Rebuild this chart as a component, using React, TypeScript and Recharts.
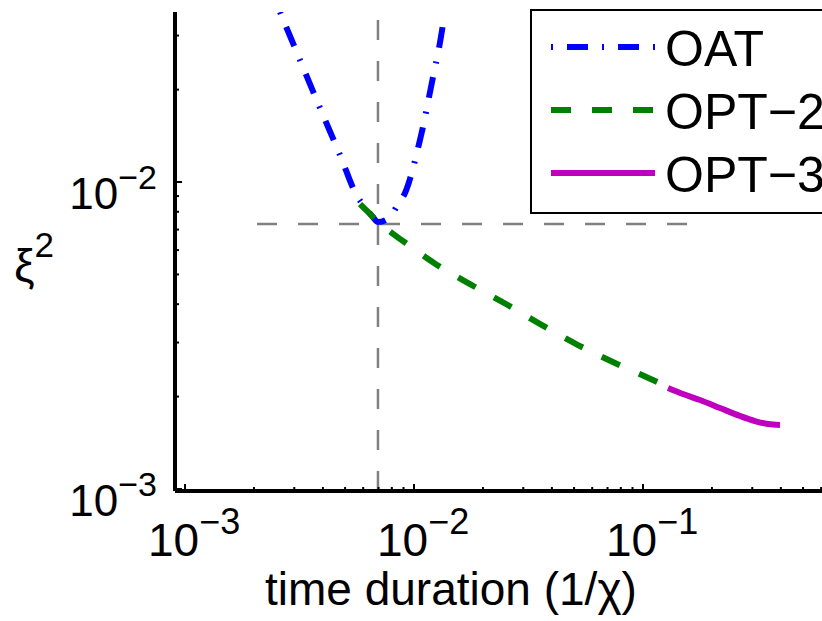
import { LineChart, Line, XAxis, YAxis, ReferenceLine, Legend } from "recharts";

const FONT = '"Liberation Sans", Arial, Helvetica, sans-serif';

// values (log-log axes)
const oatTime = [0.002599, 0.003177, 0.003886, 0.004753, 0.005638, 0.006109, 0.006555, 0.006962, 0.007855, 0.008513, 0.009135, 0.0098, 0.01041, 0.01106, 0.01163, 0.01223, 0.01286, 0.01339];
const oatXi2 = [0.0358, 0.02497, 0.01742, 0.01224, 0.009, 0.00829, 0.00775, 0.00741, 0.00769, 0.00848, 0.00921, 0.01078, 0.0129, 0.01568, 0.01892, 0.02282, 0.02733, 0.03271];

const opt2Time = [0.00581, 0.006425, 0.006962, 0.008014, 0.009605, 0.01223, 0.01756, 0.02522, 0.03622, 0.05203, 0.07546, 0.1106, 0.1286];
const opt2Xi2 = [0.00848, 0.00787, 0.00741, 0.00682, 0.00619, 0.00545, 0.00465, 0.004005, 0.00342, 0.002944, 0.002573, 0.002265, 0.00215];

const opt3Time = [0.1286, 0.1495, 0.1774, 0.2169, 0.2653, 0.3084, 0.3515, 0.3965];
const opt3Xi2 = [0.002133, 0.002039, 0.00195, 0.001836, 0.001729, 0.001665, 0.001628, 0.001616];

// optimum marked by the grey crosshair
const bestTime = 0.00696;
const bestXi2 = 0.0073;
const crossFrom = 0.002063;
const crossTo = 0.1604;

const xTicks = [0.001, 0.002, 0.003, 0.004, 0.005, 0.006, 0.007, 0.008, 0.009, 0.01, 0.02, 0.03, 0.04, 0.05, 0.06, 0.07, 0.08, 0.09, 0.1, 0.2, 0.3, 0.4, 0.5, 0.6];
const xMajorTicks = [0.001, 0.01, 0.1];
const xMajorExp = ["\u22123", "\u22122", "\u22121"];
const yTicks = [0.001, 0.002, 0.003, 0.004, 0.005, 0.006, 0.007, 0.008, 0.009, 0.01, 0.02, 0.03];
const yMajorTicks = [0.001, 0.01];
const yMajorExp = ["\u22123", "\u22122"];

const legendItems = [
  { name: "OAT", color: "#0000FF", dash: "2 14 21 14" },
  { name: "OPT\u22122", color: "#008000", dash: "20 21" },
  { name: "OPT\u22123", color: "#BF00BF", dash: undefined },
];

const zip = (xs: number[], ys: number[]) => xs.map((x, i) => ({ x, y: ys[i] }));
const oatData = zip(oatTime, oatXi2);
const opt2Data = zip(opt2Time, opt2Xi2);
const opt3Data = zip(opt3Time, opt3Xi2);

function XTick(props: any) {
  const { x, y, payload } = props;
  const i = xMajorTicks.indexOf(payload.value);
  const major = i >= 0;
  return (
    <g>
      <line x1={x} x2={x} y1={y} y2={y - (major ? 7 : 4)} stroke="#000" strokeWidth={2} />
      {major && (
        <text x={x - 37} y={y + 65} fontFamily={FONT} fill="#000">
          <tspan fontSize={46}>10</tspan>
          <tspan fontSize={36} dy={-22}>{xMajorExp[i]}</tspan>
        </text>
      )}
    </g>
  );
}

function YTick(props: any) {
  const { x, y, payload } = props;
  const i = yMajorTicks.indexOf(payload.value);
  const major = i >= 0;
  return (
    <g>
      <line x1={x} x2={x + (major ? 7 : 4)} y1={y} y2={y} stroke="#000" strokeWidth={2} />
      {major && (
        <text x={x - 18} y={y + 27} fontFamily={FONT} fill="#000" textAnchor="end">
          <tspan fontSize={44}>10</tspan>
          <tspan fontSize={34} dy={-20}>{yMajorExp[i]}</tspan>
        </text>
      )}
    </g>
  );
}

function LegendBox() {
  return (
    <svg width={300} height={206} style={{ display: "block" }}>
      <rect x={1} y={1} width={320} height={203} fill="#fff" stroke="#000" strokeWidth={2} />
      {legendItems.map((it, i) => (
        <g key={it.name}>
          <line
            x1={21}
            x2={125}
            y1={38 + i * 63}
            y2={38 + i * 63}
            stroke={it.color}
            strokeWidth={6}
            strokeDasharray={it.dash}
          />
          <text x={135} y={57 + i * 63} fontSize={50} fontFamily={FONT} fill="#000">
            {it.name}
          </text>
        </g>
      ))}
    </svg>
  );
}

export default function App() {
  return (
    <div
      style={{
        position: "fixed",
        left: 0,
        top: 0,
        width: 822,
        height: 621,
        overflow: "hidden",
        background: "#fff",
        fontFamily: FONT,
      }}
    >
      <LineChart width={822} height={621} margin={{ top: 12, right: 0, bottom: 0, left: 0 }}>
        <XAxis
          dataKey="x"
          type="number"
          scale="log"
          domain={[0.000904, 0.605]}
          allowDataOverflow
          ticks={xTicks}
          interval={0}
          height={130}
          tickSize={0}
          tickMargin={0}
          tickLine={false}
          tick={<XTick />}
          axisLine={{ stroke: "#000", strokeWidth: 4 }}
          label={{
            content: () => (
              <text x={265} y={605} fontSize={46} fontFamily={FONT} fill="#000">
                {"time duration (1/\u03c7)"}
              </text>
            ),
          }}
        />
        <YAxis
          dataKey="y"
          type="number"
          scale="log"
          domain={[0.000985, 0.0358]}
          allowDataOverflow
          ticks={yTicks}
          interval={0}
          width={175}
          tickSize={0}
          tickMargin={0}
          tickLine={false}
          tick={<YTick />}
          axisLine={{ stroke: "#000", strokeWidth: 4 }}
          label={{
            content: () => (
              <text x={14} y={282} fontFamily={FONT} fill="#000">
                <tspan fontSize={46}>{"\u03be"}</tspan>
                <tspan fontSize={35} dy={-25}>2</tspan>
              </text>
            ),
          }}
        />
        <ReferenceLine x={bestTime} stroke="#808080" strokeWidth={2.5} strokeDasharray="20 21" />
        <ReferenceLine
          segment={[
            { x: crossFrom, y: bestXi2 },
            { x: crossTo, y: bestXi2 },
          ]}
          stroke="#808080"
          strokeWidth={2.5}
          strokeDasharray="20 21"
        />
        <Line
          data={oatData}
          dataKey="y"
          name="OAT"
          type="monotone"
          stroke="#0000FF"
          strokeWidth={6}
          strokeDasharray="2 14 21 14"
          dot={false}
          isAnimationActive={false}
        />
        <Line
          data={opt2Data}
          dataKey="y"
          name="OPT-2"
          type="monotone"
          stroke="#008000"
          strokeWidth={6}
          strokeDasharray="20 21"
          dot={false}
          isAnimationActive={false}
        />
        <Line
          data={opt3Data}
          dataKey="y"
          name="OPT-3"
          type="monotone"
          stroke="#BF00BF"
          strokeWidth={6}
          dot={false}
          isAnimationActive={false}
        />
        <Legend
          layout="horizontal"
          verticalAlign="middle"
          align="center"
          content={() => <LegendBox />}
          wrapperStyle={{ position: "absolute", left: 530, top: 9, width: 300, height: 206 }}
        />
      </LineChart>
    </div>
  );
}
